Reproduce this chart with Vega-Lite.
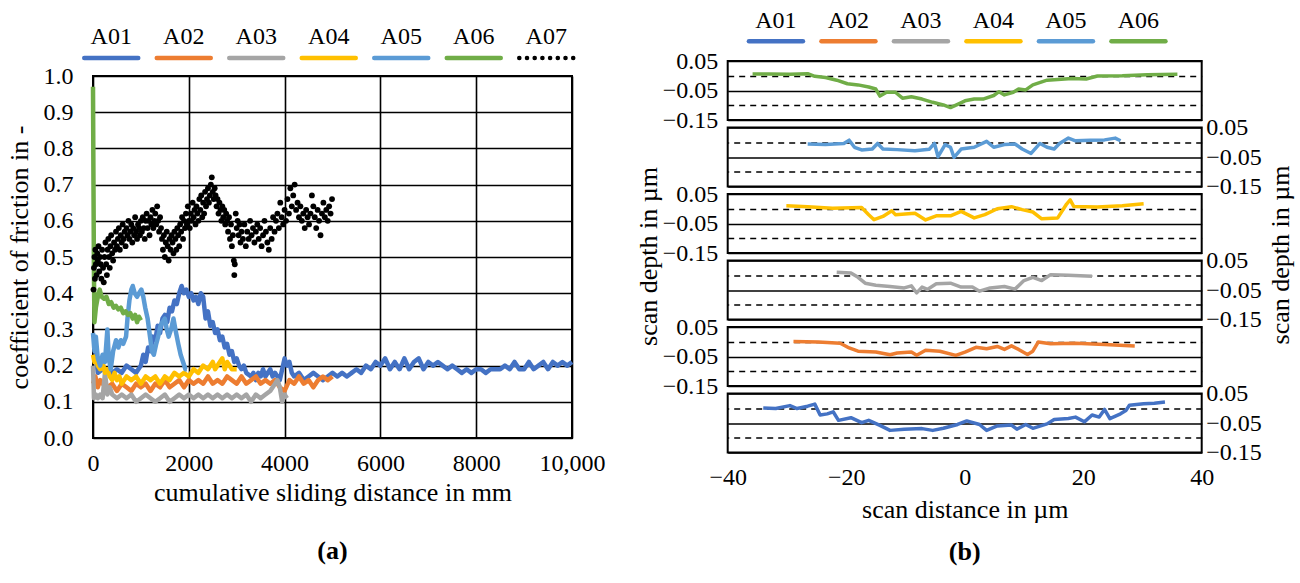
{
  "$schema": "https://vega.github.io/schema/vega-lite/v6.json",
  "background": "white",
  "padding": {"left": 5, "top": 0, "right": 2, "bottom": 2},
  "bounds": "flush",
  "spacing": 634.7,
  "config": {
    "font": "Liberation Serif",
    "view": {"stroke": "black", "strokeWidth": 2},
    "axis": {"labelFont": "Liberation Serif", "titleFont": "Liberation Serif", "labelColor": "black", "titleColor": "black", "labelFontSize": 24, "titleFontSize": 26, "titleFontWeight": "normal", "gridColor": "black", "gridOpacity": 1, "gridWidth": 1.6, "domain": false, "ticks": false, "labelFlush": false, "labelOverlap": false},
    "title": {"font": "Liberation Serif", "color": "black"}
  },
  "datasets": {
    "friction": [
      {"sample":"A01","distance":50,"cof":0.24},{"sample":"A01","distance":100,"cof":0.18},{"sample":"A01","distance":200,"cof":0.19},{"sample":"A01","distance":300,"cof":0.19},{"sample":"A01","distance":400,"cof":0.18},{"sample":"A01","distance":500,"cof":0.19},{"sample":"A01","distance":600,"cof":0.18},{"sample":"A01","distance":700,"cof":0.2},{"sample":"A01","distance":800,"cof":0.19},{"sample":"A01","distance":900,"cof":0.18},{"sample":"A01","distance":1000,"cof":0.2},{"sample":"A01","distance":1050,"cof":0.23},{"sample":"A01","distance":1100,"cof":0.21},{"sample":"A01","distance":1150,"cof":0.25},{"sample":"A01","distance":1200,"cof":0.24},{"sample":"A01","distance":1250,"cof":0.28},{"sample":"A01","distance":1300,"cof":0.27},{"sample":"A01","distance":1350,"cof":0.31},{"sample":"A01","distance":1400,"cof":0.29},{"sample":"A01","distance":1450,"cof":0.33},{"sample":"A01","distance":1500,"cof":0.34},{"sample":"A01","distance":1550,"cof":0.32},{"sample":"A01","distance":1600,"cof":0.36},{"sample":"A01","distance":1650,"cof":0.35},{"sample":"A01","distance":1700,"cof":0.38},{"sample":"A01","distance":1750,"cof":0.37},{"sample":"A01","distance":1800,"cof":0.4},{"sample":"A01","distance":1850,"cof":0.42},{"sample":"A01","distance":1900,"cof":0.4},{"sample":"A01","distance":1950,"cof":0.41},{"sample":"A01","distance":2000,"cof":0.39},{"sample":"A01","distance":2050,"cof":0.4},{"sample":"A01","distance":2100,"cof":0.38},{"sample":"A01","distance":2150,"cof":0.39},{"sample":"A01","distance":2200,"cof":0.37},{"sample":"A01","distance":2250,"cof":0.4},{"sample":"A01","distance":2300,"cof":0.39},{"sample":"A01","distance":2350,"cof":0.33},{"sample":"A01","distance":2400,"cof":0.35},{"sample":"A01","distance":2450,"cof":0.31},{"sample":"A01","distance":2500,"cof":0.32},{"sample":"A01","distance":2550,"cof":0.29},{"sample":"A01","distance":2600,"cof":0.3},{"sample":"A01","distance":2650,"cof":0.27},{"sample":"A01","distance":2700,"cof":0.28},{"sample":"A01","distance":2750,"cof":0.25},{"sample":"A01","distance":2800,"cof":0.26},{"sample":"A01","distance":2850,"cof":0.23},{"sample":"A01","distance":2900,"cof":0.24},{"sample":"A01","distance":2950,"cof":0.21},{"sample":"A01","distance":3000,"cof":0.22},{"sample":"A01","distance":3050,"cof":0.2},{"sample":"A01","distance":3100,"cof":0.19},{"sample":"A01","distance":3150,"cof":0.2},{"sample":"A01","distance":3200,"cof":0.18},{"sample":"A01","distance":3300,"cof":0.17},{"sample":"A01","distance":3350,"cof":0.18},{"sample":"A01","distance":3400,"cof":0.16},{"sample":"A01","distance":3450,"cof":0.18},{"sample":"A01","distance":3500,"cof":0.17},{"sample":"A01","distance":3550,"cof":0.19},{"sample":"A01","distance":3600,"cof":0.17},{"sample":"A01","distance":3650,"cof":0.18},{"sample":"A01","distance":3700,"cof":0.19},{"sample":"A01","distance":3750,"cof":0.17},{"sample":"A01","distance":3800,"cof":0.18},{"sample":"A01","distance":3850,"cof":0.17},{"sample":"A01","distance":3900,"cof":0.16},{"sample":"A01","distance":3950,"cof":0.19},{"sample":"A01","distance":4000,"cof":0.22},{"sample":"A01","distance":4050,"cof":0.2},{"sample":"A01","distance":4100,"cof":0.21},{"sample":"A01","distance":4150,"cof":0.18},{"sample":"A01","distance":4200,"cof":0.17},{"sample":"A01","distance":4300,"cof":0.18},{"sample":"A01","distance":4400,"cof":0.16},{"sample":"A01","distance":4500,"cof":0.17},{"sample":"A01","distance":4600,"cof":0.18},{"sample":"A01","distance":4700,"cof":0.17},{"sample":"A01","distance":4800,"cof":0.16},{"sample":"A01","distance":4900,"cof":0.17},{"sample":"A01","distance":5000,"cof":0.18},{"sample":"A01","distance":5100,"cof":0.17},{"sample":"A01","distance":5200,"cof":0.18},{"sample":"A01","distance":5300,"cof":0.17},{"sample":"A01","distance":5400,"cof":0.18},{"sample":"A01","distance":5500,"cof":0.19},{"sample":"A01","distance":5600,"cof":0.18},{"sample":"A01","distance":5700,"cof":0.2},{"sample":"A01","distance":5800,"cof":0.19},{"sample":"A01","distance":5900,"cof":0.21},{"sample":"A01","distance":6000,"cof":0.2},{"sample":"A01","distance":6100,"cof":0.22},{"sample":"A01","distance":6200,"cof":0.19},{"sample":"A01","distance":6300,"cof":0.21},{"sample":"A01","distance":6400,"cof":0.19},{"sample":"A01","distance":6500,"cof":0.22},{"sample":"A01","distance":6600,"cof":0.19},{"sample":"A01","distance":6700,"cof":0.21},{"sample":"A01","distance":6800,"cof":0.22},{"sample":"A01","distance":6900,"cof":0.19},{"sample":"A01","distance":7000,"cof":0.21},{"sample":"A01","distance":7100,"cof":0.2},{"sample":"A01","distance":7200,"cof":0.21},{"sample":"A01","distance":7300,"cof":0.2},{"sample":"A01","distance":7400,"cof":0.19},{"sample":"A01","distance":7500,"cof":0.2},{"sample":"A01","distance":7600,"cof":0.19},{"sample":"A01","distance":7700,"cof":0.18},{"sample":"A01","distance":7800,"cof":0.19},{"sample":"A01","distance":7900,"cof":0.18},{"sample":"A01","distance":8000,"cof":0.19},{"sample":"A01","distance":8100,"cof":0.19},{"sample":"A01","distance":8200,"cof":0.18},{"sample":"A01","distance":8300,"cof":0.19},{"sample":"A01","distance":8400,"cof":0.19},{"sample":"A01","distance":8500,"cof":0.19},{"sample":"A01","distance":8600,"cof":0.2},{"sample":"A01","distance":8700,"cof":0.19},{"sample":"A01","distance":8800,"cof":0.21},{"sample":"A01","distance":8900,"cof":0.19},{"sample":"A01","distance":9000,"cof":0.19},{"sample":"A01","distance":9100,"cof":0.21},{"sample":"A01","distance":9200,"cof":0.19},{"sample":"A01","distance":9300,"cof":0.2},{"sample":"A01","distance":9400,"cof":0.21},{"sample":"A01","distance":9500,"cof":0.19},{"sample":"A01","distance":9600,"cof":0.21},{"sample":"A01","distance":9700,"cof":0.2},{"sample":"A01","distance":9800,"cof":0.21},{"sample":"A01","distance":9900,"cof":0.2},{"sample":"A01","distance":10000,"cof":0.21},
      {"sample":"A02","distance":0,"cof":0.15},{"sample":"A02","distance":50,"cof":0.17},{"sample":"A02","distance":100,"cof":0.14},{"sample":"A02","distance":150,"cof":0.16},{"sample":"A02","distance":200,"cof":0.15},{"sample":"A02","distance":300,"cof":0.14},{"sample":"A02","distance":400,"cof":0.15},{"sample":"A02","distance":500,"cof":0.13},{"sample":"A02","distance":600,"cof":0.15},{"sample":"A02","distance":700,"cof":0.14},{"sample":"A02","distance":800,"cof":0.13},{"sample":"A02","distance":900,"cof":0.15},{"sample":"A02","distance":1000,"cof":0.14},{"sample":"A02","distance":1100,"cof":0.15},{"sample":"A02","distance":1200,"cof":0.13},{"sample":"A02","distance":1300,"cof":0.15},{"sample":"A02","distance":1400,"cof":0.14},{"sample":"A02","distance":1500,"cof":0.16},{"sample":"A02","distance":1600,"cof":0.14},{"sample":"A02","distance":1700,"cof":0.15},{"sample":"A02","distance":1800,"cof":0.16},{"sample":"A02","distance":1900,"cof":0.14},{"sample":"A02","distance":2000,"cof":0.16},{"sample":"A02","distance":2100,"cof":0.15},{"sample":"A02","distance":2200,"cof":0.16},{"sample":"A02","distance":2300,"cof":0.15},{"sample":"A02","distance":2400,"cof":0.17},{"sample":"A02","distance":2500,"cof":0.15},{"sample":"A02","distance":2600,"cof":0.16},{"sample":"A02","distance":2700,"cof":0.15},{"sample":"A02","distance":2800,"cof":0.17},{"sample":"A02","distance":2900,"cof":0.16},{"sample":"A02","distance":3000,"cof":0.15},{"sample":"A02","distance":3100,"cof":0.17},{"sample":"A02","distance":3200,"cof":0.15},{"sample":"A02","distance":3300,"cof":0.16},{"sample":"A02","distance":3400,"cof":0.17},{"sample":"A02","distance":3500,"cof":0.15},{"sample":"A02","distance":3600,"cof":0.16},{"sample":"A02","distance":3700,"cof":0.15},{"sample":"A02","distance":3800,"cof":0.16},{"sample":"A02","distance":3900,"cof":0.14},{"sample":"A02","distance":4000,"cof":0.13},{"sample":"A02","distance":4100,"cof":0.16},{"sample":"A02","distance":4200,"cof":0.15},{"sample":"A02","distance":4300,"cof":0.17},{"sample":"A02","distance":4400,"cof":0.15},{"sample":"A02","distance":4500,"cof":0.16},{"sample":"A02","distance":4600,"cof":0.14},{"sample":"A02","distance":4700,"cof":0.16},{"sample":"A02","distance":4800,"cof":0.17},{"sample":"A02","distance":4900,"cof":0.16},{"sample":"A02","distance":5000,"cof":0.17},
      {"sample":"A03","distance":0,"cof":0.2},{"sample":"A03","distance":20,"cof":0.11},{"sample":"A03","distance":60,"cof":0.12},{"sample":"A03","distance":100,"cof":0.11},{"sample":"A03","distance":150,"cof":0.12},{"sample":"A03","distance":200,"cof":0.11},{"sample":"A03","distance":250,"cof":0.18},{"sample":"A03","distance":300,"cof":0.12},{"sample":"A03","distance":350,"cof":0.14},{"sample":"A03","distance":400,"cof":0.12},{"sample":"A03","distance":500,"cof":0.11},{"sample":"A03","distance":600,"cof":0.12},{"sample":"A03","distance":700,"cof":0.11},{"sample":"A03","distance":800,"cof":0.12},{"sample":"A03","distance":900,"cof":0.1},{"sample":"A03","distance":1000,"cof":0.11},{"sample":"A03","distance":1100,"cof":0.12},{"sample":"A03","distance":1200,"cof":0.11},{"sample":"A03","distance":1300,"cof":0.1},{"sample":"A03","distance":1400,"cof":0.11},{"sample":"A03","distance":1500,"cof":0.12},{"sample":"A03","distance":1600,"cof":0.1},{"sample":"A03","distance":1700,"cof":0.11},{"sample":"A03","distance":1800,"cof":0.12},{"sample":"A03","distance":1900,"cof":0.11},{"sample":"A03","distance":2000,"cof":0.12},{"sample":"A03","distance":2100,"cof":0.11},{"sample":"A03","distance":2200,"cof":0.12},{"sample":"A03","distance":2300,"cof":0.11},{"sample":"A03","distance":2400,"cof":0.12},{"sample":"A03","distance":2500,"cof":0.11},{"sample":"A03","distance":2600,"cof":0.12},{"sample":"A03","distance":2700,"cof":0.11},{"sample":"A03","distance":2800,"cof":0.12},{"sample":"A03","distance":2900,"cof":0.11},{"sample":"A03","distance":3000,"cof":0.12},{"sample":"A03","distance":3100,"cof":0.11},{"sample":"A03","distance":3200,"cof":0.12},{"sample":"A03","distance":3300,"cof":0.1},{"sample":"A03","distance":3400,"cof":0.12},{"sample":"A03","distance":3500,"cof":0.11},{"sample":"A03","distance":3600,"cof":0.12},{"sample":"A03","distance":3700,"cof":0.13},{"sample":"A03","distance":3800,"cof":0.15},{"sample":"A03","distance":3850,"cof":0.16},{"sample":"A03","distance":3900,"cof":0.14},{"sample":"A03","distance":3950,"cof":0.1},{"sample":"A03","distance":4000,"cof":0.12},{"sample":"A03","distance":4050,"cof":0.11},
      {"sample":"A04","distance":0,"cof":0.23},{"sample":"A04","distance":30,"cof":0.21},{"sample":"A04","distance":60,"cof":0.22},{"sample":"A04","distance":100,"cof":0.2},{"sample":"A04","distance":150,"cof":0.19},{"sample":"A04","distance":200,"cof":0.21},{"sample":"A04","distance":250,"cof":0.18},{"sample":"A04","distance":300,"cof":0.19},{"sample":"A04","distance":350,"cof":0.17},{"sample":"A04","distance":400,"cof":0.16},{"sample":"A04","distance":450,"cof":0.18},{"sample":"A04","distance":500,"cof":0.16},{"sample":"A04","distance":550,"cof":0.17},{"sample":"A04","distance":600,"cof":0.15},{"sample":"A04","distance":700,"cof":0.17},{"sample":"A04","distance":800,"cof":0.16},{"sample":"A04","distance":900,"cof":0.17},{"sample":"A04","distance":1000,"cof":0.15},{"sample":"A04","distance":1100,"cof":0.17},{"sample":"A04","distance":1200,"cof":0.16},{"sample":"A04","distance":1300,"cof":0.17},{"sample":"A04","distance":1400,"cof":0.15},{"sample":"A04","distance":1500,"cof":0.17},{"sample":"A04","distance":1600,"cof":0.16},{"sample":"A04","distance":1700,"cof":0.18},{"sample":"A04","distance":1800,"cof":0.17},{"sample":"A04","distance":1900,"cof":0.18},{"sample":"A04","distance":2000,"cof":0.17},{"sample":"A04","distance":2100,"cof":0.19},{"sample":"A04","distance":2200,"cof":0.18},{"sample":"A04","distance":2300,"cof":0.2},{"sample":"A04","distance":2400,"cof":0.19},{"sample":"A04","distance":2500,"cof":0.21},{"sample":"A04","distance":2550,"cof":0.19},{"sample":"A04","distance":2600,"cof":0.2},{"sample":"A04","distance":2700,"cof":0.22},{"sample":"A04","distance":2750,"cof":0.19},{"sample":"A04","distance":2800,"cof":0.21},{"sample":"A04","distance":2900,"cof":0.19},{"sample":"A04","distance":3000,"cof":0.19},
      {"sample":"A05","distance":0,"cof":0.29},{"sample":"A05","distance":30,"cof":0.24},{"sample":"A05","distance":60,"cof":0.28},{"sample":"A05","distance":100,"cof":0.22},{"sample":"A05","distance":150,"cof":0.2},{"sample":"A05","distance":200,"cof":0.23},{"sample":"A05","distance":250,"cof":0.21},{"sample":"A05","distance":300,"cof":0.3},{"sample":"A05","distance":330,"cof":0.22},{"sample":"A05","distance":370,"cof":0.19},{"sample":"A05","distance":420,"cof":0.24},{"sample":"A05","distance":480,"cof":0.27},{"sample":"A05","distance":530,"cof":0.25},{"sample":"A05","distance":580,"cof":0.27},{"sample":"A05","distance":630,"cof":0.26},{"sample":"A05","distance":690,"cof":0.28},{"sample":"A05","distance":720,"cof":0.33},{"sample":"A05","distance":760,"cof":0.38},{"sample":"A05","distance":800,"cof":0.41},{"sample":"A05","distance":830,"cof":0.42},{"sample":"A05","distance":870,"cof":0.4},{"sample":"A05","distance":920,"cof":0.39},{"sample":"A05","distance":960,"cof":0.4},{"sample":"A05","distance":1010,"cof":0.41},{"sample":"A05","distance":1050,"cof":0.39},{"sample":"A05","distance":1090,"cof":0.36},{"sample":"A05","distance":1140,"cof":0.33},{"sample":"A05","distance":1190,"cof":0.28},{"sample":"A05","distance":1230,"cof":0.24},{"sample":"A05","distance":1270,"cof":0.23},{"sample":"A05","distance":1320,"cof":0.26},{"sample":"A05","distance":1360,"cof":0.28},{"sample":"A05","distance":1410,"cof":0.31},{"sample":"A05","distance":1450,"cof":0.32},{"sample":"A05","distance":1500,"cof":0.33},{"sample":"A05","distance":1540,"cof":0.3},{"sample":"A05","distance":1580,"cof":0.28},{"sample":"A05","distance":1630,"cof":0.3},{"sample":"A05","distance":1680,"cof":0.33},{"sample":"A05","distance":1720,"cof":0.3},{"sample":"A05","distance":1780,"cof":0.26},{"sample":"A05","distance":1830,"cof":0.23},{"sample":"A05","distance":1880,"cof":0.21},{"sample":"A05","distance":1930,"cof":0.19},{"sample":"A05","distance":1960,"cof":0.19},
      {"sample":"A06","distance":0,"cof":0.97},{"sample":"A06","distance":10,"cof":0.7},{"sample":"A06","distance":20,"cof":0.45},{"sample":"A06","distance":30,"cof":0.32},{"sample":"A06","distance":60,"cof":0.36},{"sample":"A06","distance":100,"cof":0.39},{"sample":"A06","distance":140,"cof":0.41},{"sample":"A06","distance":180,"cof":0.39},{"sample":"A06","distance":230,"cof":0.385},{"sample":"A06","distance":280,"cof":0.39},{"sample":"A06","distance":330,"cof":0.37},{"sample":"A06","distance":380,"cof":0.375},{"sample":"A06","distance":430,"cof":0.36},{"sample":"A06","distance":480,"cof":0.365},{"sample":"A06","distance":530,"cof":0.355},{"sample":"A06","distance":580,"cof":0.36},{"sample":"A06","distance":630,"cof":0.345},{"sample":"A06","distance":680,"cof":0.35},{"sample":"A06","distance":730,"cof":0.34},{"sample":"A06","distance":780,"cof":0.345},{"sample":"A06","distance":830,"cof":0.33},{"sample":"A06","distance":880,"cof":0.34},{"sample":"A06","distance":920,"cof":0.32},{"sample":"A06","distance":960,"cof":0.335},{"sample":"A06","distance":1000,"cof":0.325}
    ],
    "dots": [
      {"sample":"A07","distance":10,"cof":0.41},{"sample":"A07","distance":20,"cof":0.47},{"sample":"A07","distance":30,"cof":0.5},{"sample":"A07","distance":40,"cof":0.44},{"sample":"A07","distance":50,"cof":0.52},{"sample":"A07","distance":60,"cof":0.48},{"sample":"A07","distance":75,"cof":0.45},{"sample":"A07","distance":90,"cof":0.51},{"sample":"A07","distance":100,"cof":0.49},{"sample":"A07","distance":115,"cof":0.53},{"sample":"A07","distance":130,"cof":0.46},{"sample":"A07","distance":145,"cof":0.5},{"sample":"A07","distance":160,"cof":0.48},{"sample":"A07","distance":175,"cof":0.44},{"sample":"A07","distance":190,"cof":0.52},
      {"sample":"A07","distance":210,"cof":0.47},{"sample":"A07","distance":225,"cof":0.43},{"sample":"A07","distance":240,"cof":0.5},{"sample":"A07","distance":260,"cof":0.54},{"sample":"A07","distance":275,"cof":0.48},{"sample":"A07","distance":290,"cof":0.45},{"sample":"A07","distance":305,"cof":0.52},{"sample":"A07","distance":320,"cof":0.55},{"sample":"A07","distance":335,"cof":0.5},{"sample":"A07","distance":350,"cof":0.47},{"sample":"A07","distance":365,"cof":0.53},{"sample":"A07","distance":380,"cof":0.56},{"sample":"A07","distance":400,"cof":0.51},{"sample":"A07","distance":420,"cof":0.49},{"sample":"A07","distance":440,"cof":0.54},{"sample":"A07","distance":460,"cof":0.52},{"sample":"A07","distance":480,"cof":0.57},{"sample":"A07","distance":500,"cof":0.53},
      {"sample":"A07","distance":520,"cof":0.55},{"sample":"A07","distance":540,"cof":0.58},{"sample":"A07","distance":560,"cof":0.52},{"sample":"A07","distance":580,"cof":0.56},{"sample":"A07","distance":600,"cof":0.54},{"sample":"A07","distance":620,"cof":0.59},{"sample":"A07","distance":640,"cof":0.55},{"sample":"A07","distance":660,"cof":0.57},{"sample":"A07","distance":680,"cof":0.53},{"sample":"A07","distance":700,"cof":0.58},{"sample":"A07","distance":720,"cof":0.56},{"sample":"A07","distance":740,"cof":0.6},{"sample":"A07","distance":760,"cof":0.55},{"sample":"A07","distance":780,"cof":0.57},{"sample":"A07","distance":800,"cof":0.59},{"sample":"A07","distance":820,"cof":0.54},{"sample":"A07","distance":840,"cof":0.58},{"sample":"A07","distance":860,"cof":0.56},{"sample":"A07","distance":880,"cof":0.61},{"sample":"A07","distance":900,"cof":0.57},{"sample":"A07","distance":920,"cof":0.55},{"sample":"A07","distance":940,"cof":0.59},{"sample":"A07","distance":960,"cof":0.58},{"sample":"A07","distance":980,"cof":0.56},{"sample":"A07","distance":1000,"cof":0.6},
      {"sample":"A07","distance":1020,"cof":0.57},{"sample":"A07","distance":1040,"cof":0.61},{"sample":"A07","distance":1060,"cof":0.58},{"sample":"A07","distance":1080,"cof":0.55},{"sample":"A07","distance":1100,"cof":0.6},{"sample":"A07","distance":1120,"cof":0.62},{"sample":"A07","distance":1140,"cof":0.58},{"sample":"A07","distance":1160,"cof":0.6},{"sample":"A07","distance":1180,"cof":0.56},{"sample":"A07","distance":1200,"cof":0.61},{"sample":"A07","distance":1220,"cof":0.59},{"sample":"A07","distance":1240,"cof":0.63},{"sample":"A07","distance":1260,"cof":0.58},{"sample":"A07","distance":1280,"cof":0.6},{"sample":"A07","distance":1300,"cof":0.62},{"sample":"A07","distance":1320,"cof":0.59},{"sample":"A07","distance":1340,"cof":0.64},{"sample":"A07","distance":1360,"cof":0.6},{"sample":"A07","distance":1380,"cof":0.57},{"sample":"A07","distance":1400,"cof":0.61},
      {"sample":"A07","distance":1420,"cof":0.58},{"sample":"A07","distance":1440,"cof":0.55},{"sample":"A07","distance":1460,"cof":0.52},{"sample":"A07","distance":1480,"cof":0.56},{"sample":"A07","distance":1500,"cof":0.5},{"sample":"A07","distance":1520,"cof":0.54},{"sample":"A07","distance":1540,"cof":0.57},{"sample":"A07","distance":1560,"cof":0.53},{"sample":"A07","distance":1580,"cof":0.49},{"sample":"A07","distance":1600,"cof":0.55},{"sample":"A07","distance":1620,"cof":0.52},{"sample":"A07","distance":1640,"cof":0.56},{"sample":"A07","distance":1660,"cof":0.54},{"sample":"A07","distance":1680,"cof":0.51},{"sample":"A07","distance":1700,"cof":0.57},{"sample":"A07","distance":1720,"cof":0.55},{"sample":"A07","distance":1740,"cof":0.52},{"sample":"A07","distance":1760,"cof":0.58},{"sample":"A07","distance":1780,"cof":0.56},{"sample":"A07","distance":1800,"cof":0.53},
      {"sample":"A07","distance":1820,"cof":0.59},{"sample":"A07","distance":1840,"cof":0.57},{"sample":"A07","distance":1860,"cof":0.61},{"sample":"A07","distance":1880,"cof":0.55},{"sample":"A07","distance":1900,"cof":0.6},{"sample":"A07","distance":1920,"cof":0.58},{"sample":"A07","distance":1940,"cof":0.62},{"sample":"A07","distance":1960,"cof":0.59},{"sample":"A07","distance":1980,"cof":0.64},{"sample":"A07","distance":2000,"cof":0.6},{"sample":"A07","distance":2020,"cof":0.58},{"sample":"A07","distance":2040,"cof":0.62},{"sample":"A07","distance":2060,"cof":0.6},{"sample":"A07","distance":2080,"cof":0.65},{"sample":"A07","distance":2100,"cof":0.61},{"sample":"A07","distance":2120,"cof":0.63},{"sample":"A07","distance":2140,"cof":0.59},{"sample":"A07","distance":2160,"cof":0.64},{"sample":"A07","distance":2180,"cof":0.62},{"sample":"A07","distance":2200,"cof":0.6},
      {"sample":"A07","distance":2220,"cof":0.66},{"sample":"A07","distance":2240,"cof":0.63},{"sample":"A07","distance":2260,"cof":0.67},{"sample":"A07","distance":2280,"cof":0.61},{"sample":"A07","distance":2300,"cof":0.65},{"sample":"A07","distance":2320,"cof":0.62},{"sample":"A07","distance":2340,"cof":0.68},{"sample":"A07","distance":2360,"cof":0.64},{"sample":"A07","distance":2380,"cof":0.66},{"sample":"A07","distance":2400,"cof":0.69},{"sample":"A07","distance":2420,"cof":0.65},{"sample":"A07","distance":2440,"cof":0.67},{"sample":"A07","distance":2460,"cof":0.7},{"sample":"A07","distance":2480,"cof":0.72},{"sample":"A07","distance":2500,"cof":0.68},{"sample":"A07","distance":2520,"cof":0.66},{"sample":"A07","distance":2540,"cof":0.69},{"sample":"A07","distance":2560,"cof":0.67},{"sample":"A07","distance":2580,"cof":0.64},{"sample":"A07","distance":2600,"cof":0.66},{"sample":"A07","distance":2620,"cof":0.62},{"sample":"A07","distance":2640,"cof":0.65},{"sample":"A07","distance":2660,"cof":0.63},{"sample":"A07","distance":2680,"cof":0.6},{"sample":"A07","distance":2700,"cof":0.64},{"sample":"A07","distance":2720,"cof":0.61},{"sample":"A07","distance":2740,"cof":0.63},{"sample":"A07","distance":2760,"cof":0.59},{"sample":"A07","distance":2780,"cof":0.62},{"sample":"A07","distance":2800,"cof":0.6},
      {"sample":"A07","distance":2820,"cof":0.57},{"sample":"A07","distance":2840,"cof":0.61},{"sample":"A07","distance":2860,"cof":0.55},{"sample":"A07","distance":2880,"cof":0.59},{"sample":"A07","distance":2900,"cof":0.53},{"sample":"A07","distance":2920,"cof":0.56},{"sample":"A07","distance":2940,"cof":0.49},{"sample":"A07","distance":2950,"cof":0.45},{"sample":"A07","distance":2960,"cof":0.48},{"sample":"A07","distance":2980,"cof":0.62},{"sample":"A07","distance":3000,"cof":0.58},{"sample":"A07","distance":3020,"cof":0.6},{"sample":"A07","distance":3040,"cof":0.56},{"sample":"A07","distance":3060,"cof":0.59},{"sample":"A07","distance":3080,"cof":0.54},
      {"sample":"A07","distance":3100,"cof":0.57},{"sample":"A07","distance":3130,"cof":0.55},{"sample":"A07","distance":3160,"cof":0.59},{"sample":"A07","distance":3190,"cof":0.53},{"sample":"A07","distance":3220,"cof":0.57},{"sample":"A07","distance":3250,"cof":0.55},{"sample":"A07","distance":3280,"cof":0.6},{"sample":"A07","distance":3310,"cof":0.56},{"sample":"A07","distance":3340,"cof":0.58},{"sample":"A07","distance":3370,"cof":0.54},{"sample":"A07","distance":3400,"cof":0.57},{"sample":"A07","distance":3430,"cof":0.59},{"sample":"A07","distance":3460,"cof":0.55},{"sample":"A07","distance":3490,"cof":0.58},{"sample":"A07","distance":3520,"cof":0.53},{"sample":"A07","distance":3550,"cof":0.56},{"sample":"A07","distance":3580,"cof":0.6},{"sample":"A07","distance":3610,"cof":0.57},{"sample":"A07","distance":3640,"cof":0.54},{"sample":"A07","distance":3670,"cof":0.52},{"sample":"A07","distance":3700,"cof":0.58},{"sample":"A07","distance":3730,"cof":0.55},{"sample":"A07","distance":3760,"cof":0.61},{"sample":"A07","distance":3790,"cof":0.57},
      {"sample":"A07","distance":3820,"cof":0.6},{"sample":"A07","distance":3850,"cof":0.62},{"sample":"A07","distance":3880,"cof":0.58},{"sample":"A07","distance":3910,"cof":0.65},{"sample":"A07","distance":3940,"cof":0.61},{"sample":"A07","distance":3970,"cof":0.59},{"sample":"A07","distance":4000,"cof":0.63},{"sample":"A07","distance":4030,"cof":0.6},{"sample":"A07","distance":4060,"cof":0.66},{"sample":"A07","distance":4090,"cof":0.62},{"sample":"A07","distance":4120,"cof":0.69},{"sample":"A07","distance":4150,"cof":0.64},{"sample":"A07","distance":4180,"cof":0.67},{"sample":"A07","distance":4210,"cof":0.7},{"sample":"A07","distance":4240,"cof":0.63},{"sample":"A07","distance":4270,"cof":0.65},{"sample":"A07","distance":4300,"cof":0.61},
      {"sample":"A07","distance":4330,"cof":0.64},{"sample":"A07","distance":4360,"cof":0.6},{"sample":"A07","distance":4390,"cof":0.62},{"sample":"A07","distance":4420,"cof":0.58},{"sample":"A07","distance":4450,"cof":0.63},{"sample":"A07","distance":4480,"cof":0.61},{"sample":"A07","distance":4510,"cof":0.59},{"sample":"A07","distance":4540,"cof":0.62},{"sample":"A07","distance":4570,"cof":0.67},{"sample":"A07","distance":4600,"cof":0.64},{"sample":"A07","distance":4630,"cof":0.61},{"sample":"A07","distance":4660,"cof":0.58},{"sample":"A07","distance":4690,"cof":0.63},{"sample":"A07","distance":4720,"cof":0.6},{"sample":"A07","distance":4750,"cof":0.56},{"sample":"A07","distance":4780,"cof":0.62},{"sample":"A07","distance":4810,"cof":0.65},{"sample":"A07","distance":4840,"cof":0.61},{"sample":"A07","distance":4870,"cof":0.63},{"sample":"A07","distance":4900,"cof":0.6},{"sample":"A07","distance":4930,"cof":0.64},{"sample":"A07","distance":4960,"cof":0.62},{"sample":"A07","distance":4990,"cof":0.66}
    ],
    "profile": [
      {"sample":"A06","scan":-35.8,"depth":0.006},{"sample":"A06","scan":-33.1,"depth":0.006},{"sample":"A06","scan":-29.5,"depth":0.005},{"sample":"A06","scan":-26.5,"depth":0.007},{"sample":"A06","scan":-25.3,"depth":-0.002},{"sample":"A06","scan":-23.5,"depth":-0.006},{"sample":"A06","scan":-21.6,"depth":-0.015},{"sample":"A06","scan":-19.8,"depth":-0.027},{"sample":"A06","scan":-18.0,"depth":-0.031},{"sample":"A06","scan":-16.2,"depth":-0.038},{"sample":"A06","scan":-15.0,"depth":-0.045},{"sample":"A06","scan":-14.3,"depth":-0.069},{"sample":"A06","scan":-13.2,"depth":-0.056},{"sample":"A06","scan":-11.7,"depth":-0.056},{"sample":"A06","scan":-10.5,"depth":-0.076},{"sample":"A06","scan":-9.0,"depth":-0.071},{"sample":"A06","scan":-7.2,"depth":-0.079},{"sample":"A06","scan":-5.4,"depth":-0.09},{"sample":"A06","scan":-3.6,"depth":-0.099},{"sample":"A06","scan":-2.4,"depth":-0.108},{"sample":"A06","scan":-1.2,"depth":-0.097},{"sample":"A06","scan":0.05,"depth":-0.085},{"sample":"A06","scan":1.6,"depth":-0.079},{"sample":"A06","scan":3.1,"depth":-0.079},{"sample":"A06","scan":4.9,"depth":-0.067},{"sample":"A06","scan":5.8,"depth":-0.054},{"sample":"A06","scan":6.7,"depth":-0.065},{"sample":"A06","scan":8.2,"depth":-0.056},{"sample":"A06","scan":9.1,"depth":-0.045},{"sample":"A06","scan":10.3,"depth":-0.048},{"sample":"A06","scan":11.5,"depth":-0.031},{"sample":"A06","scan":13.9,"depth":-0.015},{"sample":"A06","scan":16.3,"depth":-0.012},{"sample":"A06","scan":18.1,"depth":-0.009},{"sample":"A06","scan":20.5,"depth":-0.011},{"sample":"A06","scan":22.4,"depth":-0.001},{"sample":"A06","scan":26.6,"depth":0.0},{"sample":"A06","scan":30.8,"depth":0.003},{"sample":"A06","scan":35.9,"depth":0.005},
      {"sample":"A05","scan":-26.5,"depth":-0.006},{"sample":"A05","scan":-23.5,"depth":-0.008},{"sample":"A05","scan":-20.4,"depth":-0.004},{"sample":"A05","scan":-19.5,"depth":0.007},{"sample":"A05","scan":-18.6,"depth":-0.017},{"sample":"A05","scan":-17.4,"depth":-0.026},{"sample":"A05","scan":-15.6,"depth":-0.023},{"sample":"A05","scan":-14.7,"depth":-0.004},{"sample":"A05","scan":-13.8,"depth":-0.023},{"sample":"A05","scan":-11.4,"depth":-0.025},{"sample":"A05","scan":-8.4,"depth":-0.029},{"sample":"A05","scan":-6.0,"depth":-0.024},{"sample":"A05","scan":-5.1,"depth":-0.004},{"sample":"A05","scan":-4.5,"depth":-0.049},{"sample":"A05","scan":-3.3,"depth":-0.008},{"sample":"A05","scan":-2.4,"depth":-0.017},{"sample":"A05","scan":-1.8,"depth":-0.051},{"sample":"A05","scan":-0.6,"depth":-0.023},{"sample":"A05","scan":1.6,"depth":-0.017},{"sample":"A05","scan":3.7,"depth":0.003},{"sample":"A05","scan":4.9,"depth":-0.017},{"sample":"A05","scan":6.7,"depth":-0.008},{"sample":"A05","scan":8.5,"depth":-0.006},{"sample":"A05","scan":9.7,"depth":-0.023},{"sample":"A05","scan":11.2,"depth":-0.038},{"sample":"A05","scan":12.7,"depth":-0.004},{"sample":"A05","scan":13.9,"depth":-0.017},{"sample":"A05","scan":15.1,"depth":-0.023},{"sample":"A05","scan":16.0,"depth":-0.004},{"sample":"A05","scan":17.5,"depth":0.014},{"sample":"A05","scan":18.7,"depth":0.005},{"sample":"A05","scan":21.2,"depth":0.007},{"sample":"A05","scan":23.6,"depth":0.008},{"sample":"A05","scan":25.4,"depth":0.014},{"sample":"A05","scan":26.3,"depth":0.005},
      {"sample":"A04","scan":-30.1,"depth":0.01},{"sample":"A04","scan":-26.5,"depth":0.007},{"sample":"A04","scan":-22.3,"depth":0.002},{"sample":"A04","scan":-17.4,"depth":0.004},{"sample":"A04","scan":-16.2,"depth":-0.02},{"sample":"A04","scan":-15.3,"depth":-0.037},{"sample":"A04","scan":-13.8,"depth":-0.026},{"sample":"A04","scan":-12.3,"depth":-0.007},{"sample":"A04","scan":-11.7,"depth":-0.02},{"sample":"A04","scan":-8.4,"depth":-0.015},{"sample":"A04","scan":-6.6,"depth":-0.038},{"sample":"A04","scan":-4.8,"depth":-0.024},{"sample":"A04","scan":-2.4,"depth":-0.024},{"sample":"A04","scan":-0.6,"depth":-0.009},{"sample":"A04","scan":1.6,"depth":-0.031},{"sample":"A04","scan":3.4,"depth":-0.02},{"sample":"A04","scan":5.5,"depth":0.0},{"sample":"A04","scan":7.9,"depth":0.007},{"sample":"A04","scan":9.7,"depth":-0.003},{"sample":"A04","scan":11.5,"depth":-0.011},{"sample":"A04","scan":13.0,"depth":-0.034},{"sample":"A04","scan":15.7,"depth":-0.031},{"sample":"A04","scan":17.2,"depth":0.016},{"sample":"A04","scan":17.8,"depth":0.03},{"sample":"A04","scan":18.4,"depth":0.008},{"sample":"A04","scan":22.4,"depth":0.006},{"sample":"A04","scan":26.6,"depth":0.01},{"sample":"A04","scan":30.2,"depth":0.017},
      {"sample":"A03","scan":-21.6,"depth":0.01},{"sample":"A03","scan":-19.2,"depth":0.008},{"sample":"A03","scan":-18.0,"depth":-0.007},{"sample":"A03","scan":-16.8,"depth":-0.027},{"sample":"A03","scan":-15.0,"depth":-0.034},{"sample":"A03","scan":-12.6,"depth":-0.038},{"sample":"A03","scan":-10.2,"depth":-0.043},{"sample":"A03","scan":-9.0,"depth":-0.036},{"sample":"A03","scan":-8.1,"depth":-0.06},{"sample":"A03","scan":-7.2,"depth":-0.04},{"sample":"A03","scan":-6.3,"depth":-0.048},{"sample":"A03","scan":-4.8,"depth":-0.029},{"sample":"A03","scan":-2.4,"depth":-0.027},{"sample":"A03","scan":-0.6,"depth":-0.04},{"sample":"A03","scan":1.3,"depth":-0.04},{"sample":"A03","scan":2.5,"depth":-0.054},{"sample":"A03","scan":4.3,"depth":-0.043},{"sample":"A03","scan":6.7,"depth":-0.038},{"sample":"A03","scan":8.5,"depth":-0.047},{"sample":"A03","scan":10.0,"depth":-0.018},{"sample":"A03","scan":11.5,"depth":-0.007},{"sample":"A03","scan":13.0,"depth":-0.018},{"sample":"A03","scan":14.5,"depth":0.002},{"sample":"A03","scan":17.5,"depth":0.0},{"sample":"A03","scan":21.5,"depth":-0.003},
      {"sample":"A02","scan":-28.9,"depth":0.001},{"sample":"A02","scan":-24.7,"depth":-0.001},{"sample":"A02","scan":-21.0,"depth":-0.005},{"sample":"A02","scan":-19.5,"depth":-0.021},{"sample":"A02","scan":-18.0,"depth":-0.032},{"sample":"A02","scan":-15.0,"depth":-0.035},{"sample":"A02","scan":-12.6,"depth":-0.044},{"sample":"A02","scan":-11.4,"depth":-0.038},{"sample":"A02","scan":-9.0,"depth":-0.035},{"sample":"A02","scan":-8.1,"depth":-0.046},{"sample":"A02","scan":-6.6,"depth":-0.029},{"sample":"A02","scan":-4.2,"depth":-0.032},{"sample":"A02","scan":-1.5,"depth":-0.046},{"sample":"A02","scan":0.05,"depth":-0.035},{"sample":"A02","scan":1.9,"depth":-0.019},{"sample":"A02","scan":3.7,"depth":-0.024},{"sample":"A02","scan":5.5,"depth":-0.016},{"sample":"A02","scan":6.7,"depth":-0.026},{"sample":"A02","scan":7.9,"depth":-0.014},{"sample":"A02","scan":9.1,"depth":-0.026},{"sample":"A02","scan":10.6,"depth":-0.043},{"sample":"A02","scan":11.5,"depth":-0.032},{"sample":"A02","scan":12.4,"depth":-0.001},{"sample":"A02","scan":14.5,"depth":-0.007},{"sample":"A02","scan":18.7,"depth":-0.005},{"sample":"A02","scan":23.6,"depth":-0.009},{"sample":"A02","scan":28.7,"depth":-0.014},
      {"sample":"A01","scan":-34.0,"depth":0.001},{"sample":"A01","scan":-31.9,"depth":-0.001},{"sample":"A01","scan":-29.5,"depth":0.009},{"sample":"A01","scan":-28.3,"depth":-0.001},{"sample":"A01","scan":-26.5,"depth":0.007},{"sample":"A01","scan":-25.3,"depth":0.014},{"sample":"A01","scan":-24.4,"depth":-0.023},{"sample":"A01","scan":-23.2,"depth":-0.019},{"sample":"A01","scan":-22.2,"depth":-0.012},{"sample":"A01","scan":-21.3,"depth":-0.041},{"sample":"A01","scan":-19.2,"depth":-0.032},{"sample":"A01","scan":-17.4,"depth":-0.049},{"sample":"A01","scan":-16.2,"depth":-0.041},{"sample":"A01","scan":-14.4,"depth":-0.057},{"sample":"A01","scan":-12.6,"depth":-0.075},{"sample":"A01","scan":-10.2,"depth":-0.071},{"sample":"A01","scan":-7.2,"depth":-0.069},{"sample":"A01","scan":-5.4,"depth":-0.075},{"sample":"A01","scan":-3.6,"depth":-0.068},{"sample":"A01","scan":-1.2,"depth":-0.055},{"sample":"A01","scan":0.35,"depth":-0.043},{"sample":"A01","scan":2.5,"depth":-0.055},{"sample":"A01","scan":3.7,"depth":-0.075},{"sample":"A01","scan":5.5,"depth":-0.06},{"sample":"A01","scan":7.9,"depth":-0.057},{"sample":"A01","scan":8.8,"depth":-0.071},{"sample":"A01","scan":10.3,"depth":-0.055},{"sample":"A01","scan":11.5,"depth":-0.068},{"sample":"A01","scan":13.9,"depth":-0.053},{"sample":"A01","scan":15.1,"depth":-0.038},{"sample":"A01","scan":17.5,"depth":-0.035},{"sample":"A01","scan":18.7,"depth":-0.03},{"sample":"A01","scan":20.2,"depth":-0.046},{"sample":"A01","scan":21.5,"depth":-0.023},{"sample":"A01","scan":22.7,"depth":-0.03},{"sample":"A01","scan":23.6,"depth":-0.004},{"sample":"A01","scan":24.5,"depth":-0.035},{"sample":"A01","scan":26.3,"depth":-0.019},{"sample":"A01","scan":27.2,"depth":-0.008},{"sample":"A01","scan":27.8,"depth":0.01},{"sample":"A01","scan":30.2,"depth":0.015},{"sample":"A01","scan":32.0,"depth":0.017},{"sample":"A01","scan":33.8,"depth":0.021}
    ],
    "keysA": [{"sample":"A01"},{"sample":"A02"},{"sample":"A03"},{"sample":"A04"},{"sample":"A05"},{"sample":"A06"},{"sample":"A07"}],
    "keysB": [{"sample":"A01"},{"sample":"A02"},{"sample":"A03"},{"sample":"A04"},{"sample":"A05"},{"sample":"A06"}]
  },
  "hconcat": [
    {
      "bounds": "flush",
      "spacing": 0,
      "vconcat": [
        {
          "width": 507.5,
          "height": 75,
          "view": {"stroke": "transparent"},
          "data": {"name": "keysA"},
          "encoding": {"x": {"field": "sample", "type": "nominal", "axis": null, "scale": {"type": "band", "paddingInner": 0, "paddingOuter": 0}}},
          "layer": [
            {"mark": {"type": "text", "fontSize": 24, "font": "Liberation Serif", "color": "black", "xOffset": -18, "yOffset": -1.5}, "encoding": {"text": {"field": "sample"}}},
            {"mark": {"type": "rule", "strokeWidth": 4.5, "strokeCap": "round", "xOffset": -45, "x2Offset": 9, "yOffset": 19.5},
             "encoding": {"x2": {"field": "sample"},
               "color": {"field": "sample", "type": "nominal", "legend": null, "scale": {"domain": ["A01","A02","A03","A04","A05","A06","A07"], "range": ["#4472C4","#ED7D31","#A5A5A5","#FFC000","#5B9BD5","#70AD47","#000000"]}},
               "strokeDash": {"condition": {"test": "datum.sample === 'A07'", "value": [0.1, 7.6]}, "value": [1, 0]}}}
          ]
        },
        {
          "width": 479,
          "height": 362,
          "title": {"text": "(a)", "orient": "bottom", "anchor": "middle", "fontSize": 26, "fontWeight": "bold", "offset": 33},
          "encoding": {
            "x": {"field": "distance", "type": "quantitative", "scale": {"domain": [0, 10000], "nice": false},
                  "axis": {"values": [0, 2000, 4000, 6000, 8000, 10000], "format": "d", "labelExpr": "datum.value === 10000 ? '10,000' : datum.label", "grid": true, "title": "cumulative sliding distance in mm", "labelPadding": 13, "titlePadding": 4}},
            "y": {"field": "cof", "type": "quantitative", "scale": {"domain": [0, 1], "nice": false},
                  "axis": {"values": [0, 0.1, 0.2, 0.3, 0.4, 0.5, 0.6, 0.7, 0.8, 0.9, 1.0], "format": ".1f", "grid": true, "title": "coefficient of friction in -", "labelPadding": 20, "titlePadding": 11}}
          },
          "layer": [
            {"data": {"name": "friction"}, "mark": {"type": "line", "strokeWidth": 4.5, "strokeJoin": "round"},
             "encoding": {"color": {"field": "sample", "type": "nominal", "legend": null, "scale": {"domain": ["A01","A02","A03","A04","A05","A06","A07"], "range": ["#4472C4","#ED7D31","#A5A5A5","#FFC000","#5B9BD5","#70AD47","#000000"]}}}},
            {"data": {"name": "dots"}, "mark": {"type": "circle", "size": 34, "opacity": 1},
             "encoding": {"color": {"field": "sample", "type": "nominal", "legend": null, "scale": {"domain": ["A01","A02","A03","A04","A05","A06","A07"], "range": ["#4472C4","#ED7D31","#A5A5A5","#FFC000","#5B9BD5","#70AD47","#000000"]}}}}
          ]
        }
      ]
    },
    {
      "bounds": "flush",
      "spacing": 0,
      "vconcat": [
        {
          "width": 435,
          "height": 59.3,
          "view": {"stroke": "transparent"},
          "data": {"name": "keysB"},
          "encoding": {"x": {"field": "sample", "type": "nominal", "axis": null, "scale": {"type": "band", "paddingInner": 0, "paddingOuter": 0}}},
          "layer": [
            {"mark": {"type": "text", "fontSize": 24, "font": "Liberation Serif", "color": "black", "xOffset": 12, "yOffset": -9.5}, "encoding": {"text": {"field": "sample"}}},
            {"mark": {"type": "rule", "strokeWidth": 4.5, "strokeCap": "round", "xOffset": -15, "x2Offset": 39, "yOffset": 10.5},
             "encoding": {"x2": {"field": "sample"},
               "color": {"field": "sample", "type": "nominal", "legend": null, "scale": {"domain": ["A01","A02","A03","A04","A05","A06","A07"], "range": ["#4472C4","#ED7D31","#A5A5A5","#FFC000","#5B9BD5","#70AD47","#000000"]}}}}
          ]
        },
        {
          "bounds": "flush",
          "spacing": 7.5,
          "vconcat": [
            {
              "width": 474, "height": 59,
              "data": {"name": "profile"},
              "transform": [{"filter": "datum.sample === 'A06'"}],
              "mark": {"type": "line", "strokeWidth": 3.5, "strokeJoin": "round"},
              "encoding": {
                "x": {"field": "scan", "type": "quantitative", "scale": {"domain": [-40, 40], "nice": false}, "axis": null},
                "y": {"field": "depth", "type": "quantitative", "scale": {"domain": [-0.15, 0.05], "nice": false, "zero": false},
                      "axis": {"orient": "left", "values": [0.05, 0, -0.05, -0.1, -0.15], "format": ".2f", "labelExpr": "(abs(datum.value) < 0.001 || abs(datum.value + 0.1) < 0.001) ? '' : datum.label", "grid": true, "gridWidth": 1.5, "gridDash": {"condition": {"test": "abs(datum.value) < 0.001 || abs(datum.value + 0.1) < 0.001", "value": [6, 5]}, "value": []}, "labelPadding": 10, "title": null}},
                "color": {"field": "sample", "type": "nominal", "legend": null, "scale": {"domain": ["A01","A02","A03","A04","A05","A06","A07"], "range": ["#4472C4","#ED7D31","#A5A5A5","#FFC000","#5B9BD5","#70AD47","#000000"]}}
              }
            },
            {
              "width": 474, "height": 59,
              "data": {"name": "profile"},
              "transform": [{"filter": "datum.sample === 'A05'"}],
              "mark": {"type": "line", "strokeWidth": 3.5, "strokeJoin": "round"},
              "encoding": {
                "x": {"field": "scan", "type": "quantitative", "scale": {"domain": [-40, 40], "nice": false}, "axis": null},
                "y": {"field": "depth", "type": "quantitative", "scale": {"domain": [-0.15, 0.05], "nice": false, "zero": false},
                      "axis": {"orient": "right", "values": [0.05, 0, -0.05, -0.1, -0.15], "format": ".2f", "labelExpr": "(abs(datum.value) < 0.001 || abs(datum.value + 0.1) < 0.001) ? '' : datum.label", "grid": true, "gridWidth": 1.5, "gridDash": {"condition": {"test": "abs(datum.value) < 0.001 || abs(datum.value + 0.1) < 0.001", "value": [6, 5]}, "value": []}, "labelPadding": 4, "title": null}},
                "color": {"field": "sample", "type": "nominal", "legend": null, "scale": {"domain": ["A01","A02","A03","A04","A05","A06","A07"], "range": ["#4472C4","#ED7D31","#A5A5A5","#FFC000","#5B9BD5","#70AD47","#000000"]}}
              }
            },
            {
              "width": 474, "height": 59,
              "data": {"name": "profile"},
              "transform": [{"filter": "datum.sample === 'A04'"}],
              "mark": {"type": "line", "strokeWidth": 3.5, "strokeJoin": "round"},
              "encoding": {
                "x": {"field": "scan", "type": "quantitative", "scale": {"domain": [-40, 40], "nice": false}, "axis": null},
                "y": {"field": "depth", "type": "quantitative", "scale": {"domain": [-0.15, 0.05], "nice": false, "zero": false},
                      "axis": {"orient": "left", "values": [0.05, 0, -0.05, -0.1, -0.15], "format": ".2f", "labelExpr": "(abs(datum.value) < 0.001 || abs(datum.value + 0.1) < 0.001) ? '' : datum.label", "grid": true, "gridWidth": 1.5, "gridDash": {"condition": {"test": "abs(datum.value) < 0.001 || abs(datum.value + 0.1) < 0.001", "value": [6, 5]}, "value": []}, "labelPadding": 10, "title": "scan depth in µm", "titleY": 62, "titlePadding": 1}},
                "color": {"field": "sample", "type": "nominal", "legend": null, "scale": {"domain": ["A01","A02","A03","A04","A05","A06","A07"], "range": ["#4472C4","#ED7D31","#A5A5A5","#FFC000","#5B9BD5","#70AD47","#000000"]}}
              }
            },
            {
              "width": 474, "height": 59,
              "data": {"name": "profile"},
              "transform": [{"filter": "datum.sample === 'A03'"}],
              "mark": {"type": "line", "strokeWidth": 3.5, "strokeJoin": "round"},
              "encoding": {
                "x": {"field": "scan", "type": "quantitative", "scale": {"domain": [-40, 40], "nice": false}, "axis": null},
                "y": {"field": "depth", "type": "quantitative", "scale": {"domain": [-0.15, 0.05], "nice": false, "zero": false},
                      "axis": {"orient": "right", "values": [0.05, 0, -0.05, -0.1, -0.15], "format": ".2f", "labelExpr": "(abs(datum.value) < 0.001 || abs(datum.value + 0.1) < 0.001) ? '' : datum.label", "grid": true, "gridWidth": 1.5, "gridDash": {"condition": {"test": "abs(datum.value) < 0.001 || abs(datum.value + 0.1) < 0.001", "value": [6, 5]}, "value": []}, "labelPadding": 4, "title": "scan depth in µm", "titleAngle": 270, "titleBaseline": "top", "titleY": -6, "titlePadding": 6}},
                "color": {"field": "sample", "type": "nominal", "legend": null, "scale": {"domain": ["A01","A02","A03","A04","A05","A06","A07"], "range": ["#4472C4","#ED7D31","#A5A5A5","#FFC000","#5B9BD5","#70AD47","#000000"]}}
              }
            },
            {
              "width": 474, "height": 59,
              "data": {"name": "profile"},
              "transform": [{"filter": "datum.sample === 'A02'"}],
              "mark": {"type": "line", "strokeWidth": 3.5, "strokeJoin": "round"},
              "encoding": {
                "x": {"field": "scan", "type": "quantitative", "scale": {"domain": [-40, 40], "nice": false}, "axis": null},
                "y": {"field": "depth", "type": "quantitative", "scale": {"domain": [-0.15, 0.05], "nice": false, "zero": false},
                      "axis": {"orient": "left", "values": [0.05, 0, -0.05, -0.1, -0.15], "format": ".2f", "labelExpr": "(abs(datum.value) < 0.001 || abs(datum.value + 0.1) < 0.001) ? '' : datum.label", "grid": true, "gridWidth": 1.5, "gridDash": {"condition": {"test": "abs(datum.value) < 0.001 || abs(datum.value + 0.1) < 0.001", "value": [6, 5]}, "value": []}, "labelPadding": 10, "title": null}},
                "color": {"field": "sample", "type": "nominal", "legend": null, "scale": {"domain": ["A01","A02","A03","A04","A05","A06","A07"], "range": ["#4472C4","#ED7D31","#A5A5A5","#FFC000","#5B9BD5","#70AD47","#000000"]}}
              }
            },
            {
              "width": 474, "height": 59,
              "data": {"name": "profile"},
              "transform": [{"filter": "datum.sample === 'A01'"}],
              "title": {"text": "(b)", "orient": "bottom", "anchor": "middle", "fontSize": 26, "fontWeight": "bold", "offset": 16},
              "mark": {"type": "line", "strokeWidth": 3.5, "strokeJoin": "round"},
              "encoding": {
                "x": {"field": "scan", "type": "quantitative", "scale": {"domain": [-40, 40], "nice": false},
                      "axis": {"values": [-40, -20, 0, 20, 40], "grid": false, "title": "scan distance in µm", "labelPadding": 13, "titlePadding": 7}},
                "y": {"field": "depth", "type": "quantitative", "scale": {"domain": [-0.15, 0.05], "nice": false, "zero": false},
                      "axis": {"orient": "right", "values": [0.05, 0, -0.05, -0.1, -0.15], "format": ".2f", "labelExpr": "(abs(datum.value) < 0.001 || abs(datum.value + 0.1) < 0.001) ? '' : datum.label", "grid": true, "gridWidth": 1.5, "gridDash": {"condition": {"test": "abs(datum.value) < 0.001 || abs(datum.value + 0.1) < 0.001", "value": [6, 5]}, "value": []}, "labelPadding": 4, "title": null}},
                "color": {"field": "sample", "type": "nominal", "legend": null, "scale": {"domain": ["A01","A02","A03","A04","A05","A06","A07"], "range": ["#4472C4","#ED7D31","#A5A5A5","#FFC000","#5B9BD5","#70AD47","#000000"]}}
              }
            }
          ]
        }
      ]
    }
  ]
}
